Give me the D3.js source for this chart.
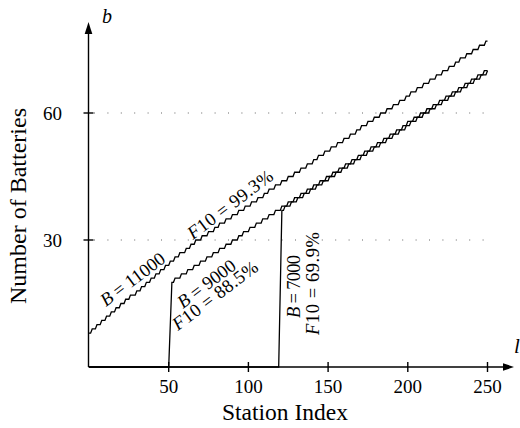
<!DOCTYPE html>
<html><head><meta charset="utf-8">
<script src="https://cdn.jsdelivr.net/npm/d3@7"></script>
<style>
body{margin:0;background:#fff;}
svg{display:block;}
text{font-family:"Liberation Serif","Times New Roman",serif;fill:#000;}
</style>
</head><body>
<svg id="c" width="520" height="428"></svg>
<script>
// ---------- data ----------
const xTicks = [50, 100, 150, 200, 250];
const yTicks = [30, 60];
const xTitle = "Station Index";
const yTitle = "Number of Batteries";
const lastStation = 250;

// B = 11000 : starts at station 0 with 8 batteries, +1 battery at each listed station
const b11Start = [0, 8];
const b11Steps = [2, 5, 8, 11, 14, 17, 20, 23, 26, 30, 33, 36, 39, 42, 45, 48, 51, 54, 57, 61,
  64, 67, 71, 75, 79, 82, 86, 90, 94, 98, 102, 106, 110, 113, 117, 121, 125, 129, 133, 137,
  141, 144, 148, 152, 156, 160, 164, 168, 171, 175, 179, 183, 187, 191, 195, 199, 202, 206, 210, 214,
  218, 222, 226, 230, 233, 237, 241, 245, 249];

// B = 9000 : zero up to station 50, jumps to 20 at station 52
const b9Zero = 50;
const b9Start = [52, 20];
const b9Steps = [54, 58, 62, 66, 70, 74, 78, 82, 86, 90, 94, 97, 101, 105, 109, 113, 117, 121, 125, 129,
  133, 137, 141, 145, 149, 153, 157, 161, 165, 169, 173, 177, 181, 185, 189, 193, 197, 200, 204, 208,
  212, 216, 220, 224, 228, 232, 236, 240, 244, 248];

// B = 7000 : zero up to station 119, jumps to 37 at station 121
const b7Zero = 119;
const b7Start = [121, 37];
const b7Steps = [123, 127, 131, 135, 139, 143, 147, 151, 155, 159, 163, 167, 171, 175, 179, 183, 187, 191, 195, 199,
  202, 206, 210, 214, 218, 222, 226, 230, 234, 238, 242, 246, 250];

const labelB11 = ["B", " = 11000"];
const labelF11 = ["F", "10 = 99.3%"];
const labelB9 = ["B", " = 9000"];
const labelF9 = ["F", "10 = 88.5%"];
const labelB7 = ["B", " = 7000"];
const labelF7 = ["F", "10 = 69.9%"];

// ---------- build ----------
function build(zeroUntil, start, steps) {
  const pts = [];
  if (zeroUntil !== null) for (let s = 0; s <= zeroUntil; s++) pts.push([s, 0]);
  for (let s = start[0]; s <= lastStation; s++) {
    pts.push([s, start[1] + steps.filter(t => t <= s).length]);
  }
  return pts;
}
const s11 = build(null, b11Start, b11Steps);
const s9 = build(b9Zero, b9Start, b9Steps);
const s7 = build(b7Zero, b7Start, b7Steps);

const svg = d3.select("#c");
const x = d3.scaleLinear().domain([0, 250]).range([89, 487.5]);
const y = d3.scaleLinear().domain([0, 60]).range([367, 113]);

// grid lines
svg.append("g").selectAll("line").data(yTicks).join("line")
  .attr("x1", x(0) + 5).attr("x2", x(250) + 1)
  .attr("y1", d => y(d)).attr("y2", d => y(d))
  .attr("stroke", "#666").attr("stroke-width", 1.1)
  .attr("stroke-dasharray", "1,12.4");

// axes lines
const ax = svg.append("g").attr("stroke", "#000").attr("stroke-width", 1.4);
ax.append("line").attr("x1", x(0) - 0.5).attr("x2", 505).attr("y1", y(0)).attr("y2", y(0));
ax.append("line").attr("x1", x(0) - 0.5).attr("x2", x(0) - 0.5).attr("y1", y(0)).attr("y2", 32);
svg.append("path").attr("d", `M514,${y(0)} L503,${y(0) - 3.8} L503,${y(0) + 3.8} Z`).attr("fill", "#000");
svg.append("path").attr("d", `M${x(0) - 0.5},22 L${x(0) - 4.3},34 L${x(0) + 3.3},34 Z`).attr("fill", "#000");

// ticks
ax.selectAll("line.xt").data(xTicks).join("line").attr("class", "xt")
  .attr("x1", d => x(d)).attr("x2", d => x(d)).attr("y1", y(0) - 5).attr("y2", y(0) + 5);
ax.selectAll("line.yt").data(yTicks).join("line").attr("class", "yt")
  .attr("x1", x(0) - 5.5).attr("x2", x(0) + 4.5).attr("y1", d => y(d)).attr("y2", d => y(d));

svg.append("g").selectAll("text").data(xTicks).join("text")
  .attr("x", d => x(d)).attr("y", 393).attr("text-anchor", "middle")
  .attr("font-size", 19).text(d => d);
svg.append("g").selectAll("text").data(yTicks).join("text")
  .attr("x", 62).attr("y", d => y(d) + 6.5).attr("text-anchor", "end")
  .attr("font-size", 19).text(d => d);

svg.append("text").attr("x", 285).attr("y", 420).attr("text-anchor", "middle")
  .attr("font-size", 23.5).text(xTitle);
svg.append("text").attr("transform", "translate(26,206) rotate(-90)").attr("text-anchor", "middle")
  .attr("font-size", 24).text(yTitle);

svg.append("text").attr("x", 102).attr("y", 23).attr("font-size", 20).attr("font-style", "italic").text("b");
svg.append("text").attr("x", 514).attr("y", 353).attr("font-size", 21).attr("font-style", "italic").text("l");

// series
const line = d3.line().x(d => x(d[0])).y(d => y(d[1]));
svg.append("g").selectAll("path").data([s11, s9, s7]).join("path")
  .attr("d", line).attr("fill", "none").attr("stroke", "#000").attr("stroke-width", 1.3)
  .attr("stroke-linejoin", "miter");

// annotations
function label(parts, tx, ty, rot, len) {
  const t = svg.append("text").attr("transform", `translate(${tx},${ty}) rotate(${rot})`)
    .attr("font-size", 18.5).attr("textLength", len).attr("lengthAdjust", "spacing");
  t.append("tspan").attr("font-style", "italic").text(parts[0]);
  t.append("tspan").text(parts[1]);
}
label(labelB11, 106, 307, -37, 76);
label(labelF11, 193, 240, -37, 102);
label(labelB9, 183, 309, -37, 68);
label(labelF9, 178, 331, -37, 102);
label(labelB7, 299.5, 318, -90, 63);
label(labelF7, 319, 335, -90, 103);
</script>
</body></html>
